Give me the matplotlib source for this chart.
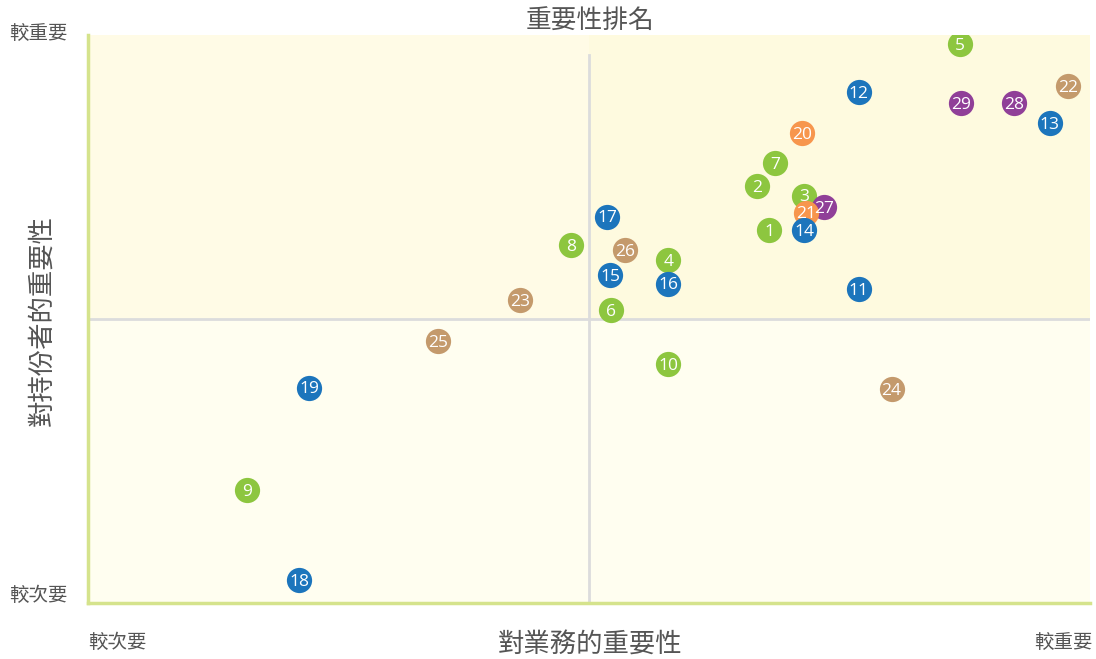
import matplotlib
matplotlib.use("Agg")
import matplotlib.pyplot as plt
from matplotlib.patches import Rectangle

plt.rcParams['font.family'] = ['Noto Sans CJK TC', 'DejaVu Sans']

# Data (x: importance to business, y: importance to stakeholders; 0-10 scale, midpoint 5)
labels = [5, 12, 22, 29, 28, 13, 20, 7, 2, 3, 27, 21, 14, 1, 17, 8, 26, 4, 15, 16,
          11, 6, 23, 25, 10, 24, 19, 9, 18]
x_vals = [8.70, 7.69, 9.78, 8.71, 9.24, 9.60, 7.13, 6.86, 6.68, 7.15, 7.35, 7.17, 7.15, 6.80,
          5.18, 4.82, 5.36, 5.79, 5.21, 5.79, 7.69, 5.22, 4.31, 3.49, 5.79, 8.02, 2.21, 1.59, 2.11]
y_vals = [9.84, 9.00, 9.10, 8.80, 8.80, 8.45, 8.27, 7.75, 7.34, 7.17, 6.97, 6.87, 6.57, 6.57,
          6.80, 6.30, 6.21, 6.04, 5.77, 5.62, 5.53, 5.16, 5.33, 4.61, 4.21, 3.77, 3.79, 1.99, 0.40]
groups = ['env', 'gov', 'com', 'emp', 'emp', 'gov', 'prod', 'env', 'env', 'env', 'emp', 'prod',
          'gov', 'env', 'gov', 'env', 'com', 'env', 'gov', 'gov', 'gov', 'env', 'com', 'com',
          'env', 'com', 'gov', 'env', 'gov']
group_colors = {'env': '#8dc63f', 'gov': '#1c75bc', 'com': '#c49a6c',
                'emp': '#903f98', 'prod': '#f7964d'}

title = '重要性排名'
xlabel = '對業務的重要性'
ylabel = '對持份者的重要性'
low_text = '較次要'
high_text = '較重要'

W, H = 1096, 659
fig = plt.figure(figsize=(W / 100, H / 100), dpi=100)
ax = fig.add_axes([88 / W, 1 - 603 / H, (1090 - 88) / W, (603 - 35) / H])
ax.set_xlim(0, 10)
ax.set_ylim(0, 10)

# quadrant backgrounds
ax.add_patch(Rectangle((0, 5), 5, 5, color='#fffbe6', zorder=0, lw=0))
ax.add_patch(Rectangle((5, 5), 5, 5, color='#fefadf', zorder=0, lw=0))
ax.add_patch(Rectangle((0, 0), 10, 5, color='#fffef0', zorder=0, lw=0))

# quadrant lines
ax.axhline(5, color='#dcdcdc', lw=2, zorder=1)
ax.plot([5, 5], [0, (603 - 55) / 56.8], color='#dcdcdc', lw=2, zorder=1)

for s in ['top', 'right']:
    ax.spines[s].set_visible(False)
for s in ['left', 'bottom']:
    ax.spines[s].set_color('#d5e38c')
    ax.spines[s].set_linewidth(2.5)
ax.set_xticks([])
ax.set_yticks([])

for lab, x, y, g in zip(labels, x_vals, y_vals, groups):
    ax.scatter(x, y, s=330, color=group_colors[g], zorder=3, lw=0)
    ax.text(x, y - 0.03, str(lab), color='white', fontsize=12.5, ha='center', va='center',
            family=['Open Sans', 'DejaVu Sans'], zorder=4)

tc = '#555555'
fw = 'light'
fig.text(590 / W, 1 - 22 / H, title, ha='center', va='center', fontsize=18.5, color=tc,
         fontweight=fw)
fig.text(590 / W, 1 - 644 / H, xlabel, ha='center', va='center', fontsize=19, color=tc,
         fontweight=fw)
fig.text(42 / W, 1 - 320 / H, ylabel, ha='center', va='center', fontsize=19, color=tc,
         rotation=90, fontweight=fw)
fig.text(38 / W, 1 - 33 / H, high_text, ha='center', va='center', fontsize=14, color=tc,
         fontweight=fw)
fig.text(38 / W, 1 - 595 / H, low_text, ha='center', va='center', fontsize=14, color=tc,
         fontweight=fw)
fig.text(117 / W, 1 - 642 / H, low_text, ha='center', va='center', fontsize=14, color=tc,
         fontweight=fw)
fig.text(1063 / W, 1 - 642 / H, high_text, ha='center', va='center', fontsize=14, color=tc,
         fontweight=fw)

fig.savefig('out.png', dpi=100, facecolor='white')
